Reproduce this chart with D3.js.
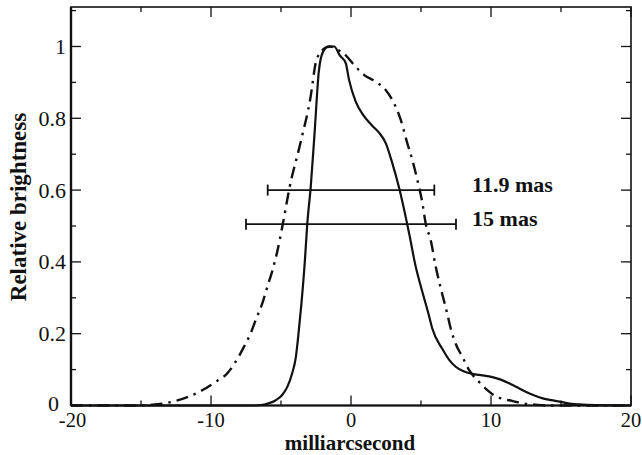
<!DOCTYPE html>
<html>
<head>
<meta charset="utf-8">
<script src="https://cdn.jsdelivr.net/npm/d3@7/dist/d3.min.js"></script>
<style>
  html, body { margin: 0; padding: 0; background: #fff; }
  svg { display: block; }
  text { font-family: "Liberation Serif", "Times New Roman", serif; fill: #111; }
</style>
</head>
<body>
<svg id="chart" width="642" height="455"></svg>
<script>
// Brightness profiles along the jet axis (offset in mas, relative brightness)
const solidX = [-20, -7, -6.3, -5.9, -5.4, -4.9, -4.55, -4.2, -3.95, -3.75, -3.55, -3.3, -3.12, -2.88, -2.6, -2.3, -2.0, -1.6, -1.2, -0.8, -0.38, -0.14, 0.33, 0.85, 1.5, 2.0, 2.48, 2.95, 3.43, 4.0, 4.2, 4.62, 4.86, 5.57, 5.8, 6.52, 7.0, 7.48, 8.0, 8.67, 9.4, 10.1, 10.7, 11.29, 11.9, 12.48, 13.1, 13.7, 14.3, 14.9, 15.5, 16.3, 17.5, 20];
const solidY = [0, 0, 0.002, 0.006, 0.014, 0.03, 0.052, 0.09, 0.132, 0.2, 0.28, 0.4, 0.508, 0.607, 0.76, 0.93, 0.985, 1.0, 1.0, 0.975, 0.954, 0.907, 0.847, 0.81, 0.78, 0.76, 0.731, 0.675, 0.607, 0.508, 0.47, 0.387, 0.35, 0.25, 0.215, 0.158, 0.128, 0.108, 0.096, 0.088, 0.084, 0.079, 0.072, 0.062, 0.05, 0.038, 0.028, 0.02, 0.015, 0.011, 0.006, 0.003, 0.001, 0];

const dashX = [-20, -15, -14.2, -13.5, -12.5, -11.57, -10.6, -9.67, -8.83, -8.24, -7.64, -7.17, -6.81, -6.33, -5.98, -5.62, -5.26, -4.86, -4.4, -3.6, -2.88, -2.52, -2.05, -1.5, -0.9, -0.5, 0.1, 0.93, 1.76, 2.48, 3.07, 3.55, 4.02, 4.38, 4.74, 5.1, 5.33, 5.69, 6.05, 6.52, 6.88, 7.12, 7.5, 7.95, 8.43, 9.14, 9.74, 10.2, 10.9, 11.5, 12.3, 13.2, 14, 20];
const dashY = [0, 0, 0.002, 0.005, 0.013, 0.025, 0.043, 0.066, 0.09, 0.122, 0.164, 0.201, 0.238, 0.285, 0.33, 0.375, 0.43, 0.508, 0.605, 0.733, 0.861, 0.954, 0.99, 1.0, 0.99, 0.98, 0.954, 0.921, 0.902, 0.879, 0.842, 0.796, 0.731, 0.684, 0.628, 0.564, 0.508, 0.461, 0.387, 0.31, 0.255, 0.215, 0.17, 0.136, 0.099, 0.066, 0.043, 0.029, 0.018, 0.013, 0.006, 0.002, 0, 0];

// Width markers (full widths in mas) and the brightness level they sit at
const barWidths = [11.9, 15];
const barLevels = [0.6, 0.505];
const barLabels = ["11.9 mas", "15 mas"];

// Tick values and labels
const xTicks = [-20, -10, 0, 10, 20];
const xMinor = [-15, -5, 5, 15];
const yTicks = [0, 0.2, 0.4, 0.6, 0.8, 1];
const yMinor = [0.1, 0.3, 0.5, 0.7, 0.9, 1.1];
const yTickLabels = ["0", "0.2", "0.4", "0.6", "0.8", "1"];

const svg = d3.select("#chart");
const plotL = 71, plotR = 631, plotT = 7, plotB = 405.5;

const x = d3.scaleLinear().domain([-20, 20]).range([plotL, plotR]);
const y = d3.scaleLinear().domain([0, 1.11]).range([plotB, plotT]);

const g = svg.append("g");

// Inward ticks on all four sides
const majorLen = 10, minorLen = 5;
const ticks = g.append("g").attr("stroke", "#111").attr("stroke-width", 1.3);
xTicks.concat(xMinor).forEach(v => {
  const len = xTicks.includes(v) ? majorLen : minorLen;
  ticks.append("line").attr("x1", x(v)).attr("x2", x(v)).attr("y1", plotB).attr("y2", plotB - len);
  ticks.append("line").attr("x1", x(v)).attr("x2", x(v)).attr("y1", plotT).attr("y2", plotT + len);
});
yTicks.concat(yMinor).forEach(v => {
  const len = yTicks.includes(v) ? majorLen : minorLen;
  ticks.append("line").attr("y1", y(v)).attr("y2", y(v)).attr("x1", plotL).attr("x2", plotL + len);
  ticks.append("line").attr("y1", y(v)).attr("y2", y(v)).attr("x1", plotR).attr("x2", plotR - len);
});

// Frame
g.append("rect")
  .attr("x", plotL).attr("y", plotT)
  .attr("width", plotR - plotL).attr("height", plotB - plotT)
  .attr("fill", "none").attr("stroke", "#111").attr("stroke-width", 1.6);
g.append("line").attr("x1", plotL).attr("x2", plotL).attr("y1", plotT).attr("y2", plotB)
  .attr("stroke", "#111").attr("stroke-width", 2.4);
g.append("line").attr("x1", plotL).attr("x2", plotR).attr("y1", plotB).attr("y2", plotB)
  .attr("stroke", "#111").attr("stroke-width", 2.2);

// Tick labels
g.append("g").selectAll("text").data(xTicks).join("text")
  .attr("x", d => x(d) + (d === -20 ? 1.5 : 0)).attr("y", 427)
  .attr("text-anchor", "middle")
  .attr("font-size", 20.5)
  .text(d => d);
g.append("g").selectAll("text").data(yTicks).join("text")
  .attr("x", d => d === 0 ? 59 : 66).attr("y", d => y(d) + (d === 0 ? 5 : 7.5))
  .attr("text-anchor", "end")
  .attr("font-size", 22)
  .text((d, i) => yTickLabels[i]);

// Axis titles
g.append("text")
  .attr("x", 350).attr("y", 450)
  .attr("text-anchor", "middle")
  .attr("font-size", 21).attr("font-weight", "bold")
  .text("milliarcsecond");
g.append("text")
  .attr("transform", "translate(26,207) rotate(-90)")
  .attr("text-anchor", "middle")
  .attr("font-size", 23).attr("font-weight", "bold")
  .text("Relative brightness");

// Profiles
const line = d3.line().x(d => x(d[0])).y(d => y(d[1])).curve(d3.curveMonotoneX);
g.append("path")
  .datum(dashX.map((v, i) => [v, dashY[i]]))
  .attr("d", line)
  .attr("fill", "none").attr("stroke", "#111").attr("stroke-width", 2.4)
  .attr("stroke-dasharray", "12,6,2.5,6");
g.append("path")
  .datum(solidX.map((v, i) => [v, solidY[i]]))
  .attr("d", line)
  .attr("fill", "none").attr("stroke", "#111").attr("stroke-width", 2.2);

// Width markers with end caps and labels
const bars = g.append("g").attr("stroke", "#111").attr("stroke-width", 1.8);
barWidths.forEach((w, i) => {
  const yy = y(barLevels[i]);
  const x0 = x(-w / 2), x1 = x(w / 2);
  bars.append("line").attr("x1", x0).attr("x2", x1).attr("y1", yy).attr("y2", yy);
  bars.append("line").attr("x1", x0).attr("x2", x0).attr("y1", yy - 5.5).attr("y2", yy + 5.5);
  bars.append("line").attr("x1", x1).attr("x2", x1).attr("y1", yy - 5.5).attr("y2", yy + 5.5);
  g.append("text")
    .attr("x", x(8.65)).attr("y", yy + 2)
    .attr("font-size", 22).attr("font-weight", "bold")
    .text(barLabels[i]);
});
</script>
</body>
</html>
